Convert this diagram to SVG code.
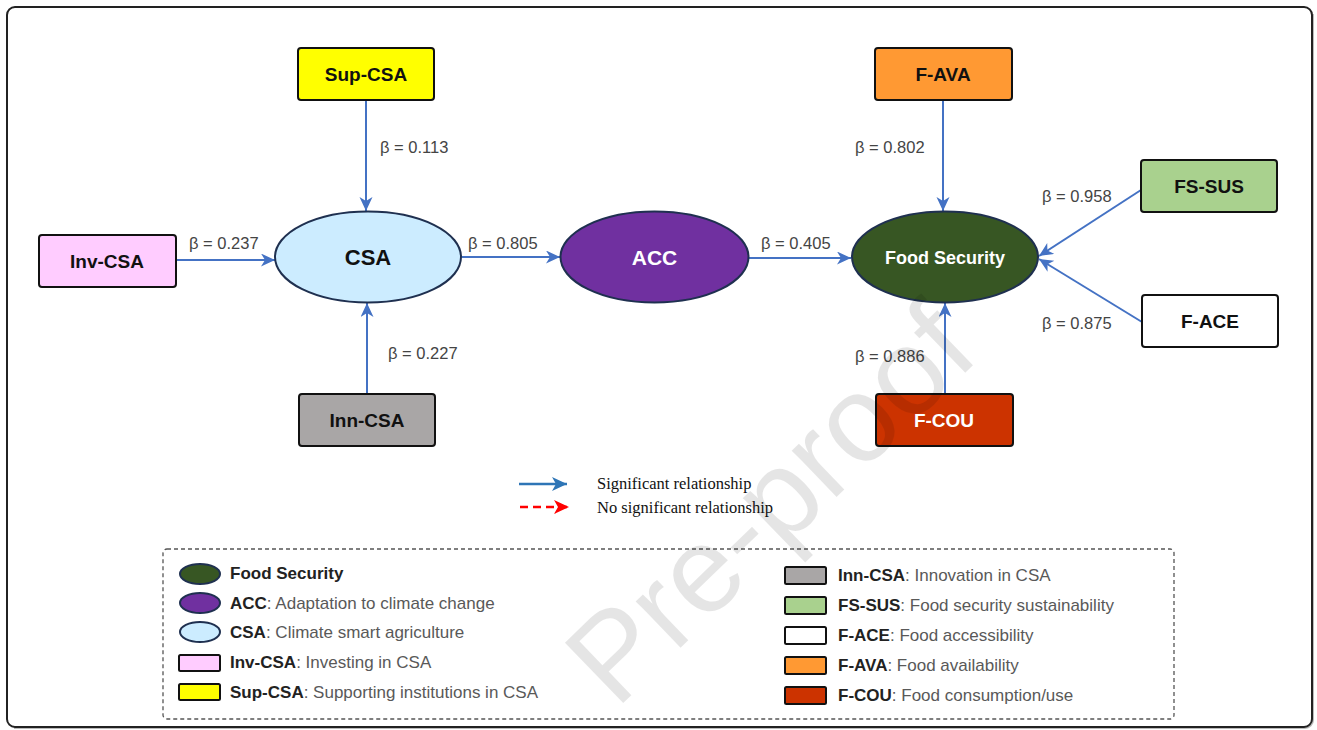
<svg xmlns="http://www.w3.org/2000/svg" width="1317" height="730" viewBox="0 0 1317 730">
<defs>
<style>
.box{stroke:#111;stroke-width:2}
.ell{stroke:#1F3050;stroke-width:2}
.conn{stroke:#4472C4;stroke-width:2;fill:none}
.nt{font-family:"Liberation Sans",Arial,sans-serif;font-weight:bold;font-size:19px;text-anchor:middle;fill:#111}
.beta{font-family:"Liberation Sans",Arial,sans-serif;font-size:16.5px;fill:#444}
.lg{font-family:"Liberation Sans",Arial,sans-serif;font-size:17px;fill:#595959}
.lgb{font-weight:bold;fill:#222}
.ser{font-family:"Liberation Serif","Times New Roman",serif;font-size:16.5px;fill:#111}
.wm{font-family:"Liberation Sans",Arial,sans-serif;font-size:122px;fill:#000;fill-opacity:0.1}
</style>
<marker id="ah" markerUnits="userSpaceOnUse" markerWidth="15" markerHeight="15" refX="14" refY="6.5" orient="auto">
<path d="M0,0 L14,6.5 L0,13 L4,6.5 z" fill="#4472C4"/>
</marker>
<marker id="ahb" markerUnits="userSpaceOnUse" markerWidth="16" markerHeight="16" refX="15" refY="7" orient="auto">
<path d="M0,0 L15,7 L0,14 L4,7 z" fill="#2E75B6"/>
</marker>
<marker id="ahr" markerUnits="userSpaceOnUse" markerWidth="16" markerHeight="16" refX="15" refY="7" orient="auto">
<path d="M0,0 L15,7 L0,14 L4,7 z" fill="#FF0000"/>
</marker>
</defs>
<rect x="0" y="0" width="1317" height="730" fill="#fff"/>
<path d="M1313,14 V720 A8,8 0 0 1 1305,728 H14" fill="none" stroke="#bbb" stroke-width="2"/>
<rect x="7" y="7" width="1305" height="720" rx="8" fill="#fff" stroke="#222" stroke-width="2"/>

<g id="connectors">
<line class="conn" x1="366" y1="100" x2="366" y2="211" marker-end="url(#ah)"/>
<line class="conn" x1="176" y1="260" x2="275" y2="260" marker-end="url(#ah)"/>
<line class="conn" x1="367" y1="394" x2="367" y2="303" marker-end="url(#ah)"/>
<line class="conn" x1="462" y1="257" x2="560" y2="257" marker-end="url(#ah)"/>
<line class="conn" x1="749" y1="258" x2="851" y2="258" marker-end="url(#ah)"/>
<line class="conn" x1="943" y1="100" x2="943" y2="211" marker-end="url(#ah)"/>
<line class="conn" x1="945" y1="394" x2="945" y2="303" marker-end="url(#ah)"/>
<line class="conn" x1="1141" y1="190" x2="1039" y2="256" marker-end="url(#ah)"/>
<line class="conn" x1="1142" y1="322" x2="1039" y2="259" marker-end="url(#ah)"/>
</g>

<g id="labels">
<text class="beta" x="380" y="153">β = 0.113</text>
<text class="beta" x="189" y="249">β = 0.237</text>
<text class="beta" x="468" y="249">β = 0.805</text>
<text class="beta" x="388" y="359">β = 0.227</text>
<text class="beta" x="761" y="249">β = 0.405</text>
<text class="beta" x="855" y="153">β = 0.802</text>
<text class="beta" x="1042" y="202">β = 0.958</text>
<text class="beta" x="1042" y="329">β = 0.875</text>
<text class="beta" x="855" y="362">β = 0.886</text>
</g>

<g id="node-sup-csa">
<rect class="box" x="298" y="48" width="136" height="52" rx="3" fill="#FFFF00"/>
<text class="nt" x="366" y="81">Sup-CSA</text>
</g>
<g id="node-inv-csa">
<rect class="box" x="39" y="235" width="137" height="52" rx="3" fill="#FFCCFF"/>
<text class="nt" x="107" y="268">Inv-CSA</text>
</g>
<g id="node-inn-csa">
<rect class="box" x="299" y="394" width="136" height="52" rx="3" fill="#A9A6A6"/>
<text class="nt" x="367" y="427">Inn-CSA</text>
</g>
<g id="node-csa">
<ellipse class="ell" cx="368" cy="257" rx="93" ry="45.5" fill="#CCECFF"/>
<text class="nt" x="368" y="265" style="font-size:22px">CSA</text>
</g>
<g id="node-acc">
<ellipse class="ell" cx="654.5" cy="257" rx="94" ry="45.5" fill="#7030A0"/>
<text class="nt" x="654.5" y="265" style="font-size:21px;fill:#fff">ACC</text>
</g>
<g id="node-food-security">
<ellipse class="ell" cx="945" cy="257" rx="93" ry="45.5" fill="#375623"/>
<text class="nt" x="945" y="264" style="font-size:18px;fill:#fff">Food Security</text>
</g>
<g id="node-f-ava">
<rect class="box" x="875" y="48" width="137" height="52" rx="3" fill="#FF9933"/>
<text class="nt" x="943" y="81">F-AVA</text>
</g>
<g id="node-fs-sus">
<rect class="box" x="1141" y="160" width="136" height="52" rx="3" fill="#A9D18E"/>
<text class="nt" x="1209" y="193">FS-SUS</text>
</g>
<g id="node-f-ace">
<rect class="box" x="1142" y="295" width="136" height="52" rx="3" fill="#FFFFFF"/>
<text class="nt" x="1210" y="328">F-ACE</text>
</g>
<g id="node-f-cou">
<rect class="box" x="876" y="394" width="137" height="52" rx="3" fill="#CC3300"/>
<text class="nt" x="944" y="427" style="fill:#fff">F-COU</text>
</g>

<g id="key">
<line x1="519" y1="484" x2="567" y2="484" stroke="#2E75B6" stroke-width="2.5" marker-end="url(#ahb)"/>
<line x1="520" y1="507" x2="569" y2="507" stroke="#FF0000" stroke-width="2.5" stroke-dasharray="8,5" marker-end="url(#ahr)"/>
<text class="ser" x="597" y="489">Significant relationship</text>
<text class="ser" x="597" y="513">No significant relationship</text>
</g>

<g id="legend">
<rect x="163" y="549" width="1011" height="170" rx="4" fill="none" stroke="#555" stroke-width="1.3" stroke-dasharray="4,3"/>
<ellipse class="ell" cx="200" cy="574" rx="20" ry="10" fill="#375623"/>
<ellipse class="ell" cx="200" cy="603" rx="20" ry="10" fill="#7030A0"/>
<ellipse class="ell" cx="200" cy="632" rx="20" ry="10" fill="#CCECFF"/>
<rect class="box" x="179" y="655" width="41" height="16" rx="1.5" fill="#FFCCFF"/>
<rect class="box" x="179" y="684" width="41" height="16" rx="1.5" fill="#FFFF00"/>
<text class="lg" x="230" y="579"><tspan class="lgb">Food Security</tspan></text>
<text class="lg" x="230" y="609"><tspan class="lgb">ACC</tspan>: Adaptation to climate change</text>
<text class="lg" x="230" y="638"><tspan class="lgb">CSA</tspan>: Climate smart agriculture</text>
<text class="lg" x="230" y="668"><tspan class="lgb">Inv-CSA</tspan>: Investing in CSA</text>
<text class="lg" x="230" y="698"><tspan class="lgb">Sup-CSA</tspan>: Supporting institutions in CSA</text>
<rect class="box" x="785" y="567" width="41" height="17" rx="1.5" fill="#A9A6A6"/>
<rect class="box" x="785" y="597" width="41" height="17" rx="1.5" fill="#A9D18E"/>
<rect class="box" x="785" y="627" width="41" height="17" rx="1.5" fill="#FFFFFF"/>
<rect class="box" x="785" y="657" width="41" height="17" rx="1.5" fill="#FF9933"/>
<rect class="box" x="785" y="687" width="41" height="17" rx="1.5" fill="#CC3300"/>
<text class="lg" x="838" y="581"><tspan class="lgb">Inn-CSA</tspan>: Innovation in CSA</text>
<text class="lg" x="838" y="611"><tspan class="lgb">FS-SUS</tspan>: Food security sustainability</text>
<text class="lg" x="838" y="641"><tspan class="lgb">F-ACE</tspan>: Food accessibility</text>
<text class="lg" x="838" y="671"><tspan class="lgb">F-AVA</tspan>: Food availability</text>
<text class="lg" x="838" y="701"><tspan class="lgb">F-COU</tspan>: Food consumption/use</text>
</g>

<text class="wm" transform="translate(616,710) rotate(-44)">Pre-proof</text>
</svg>
